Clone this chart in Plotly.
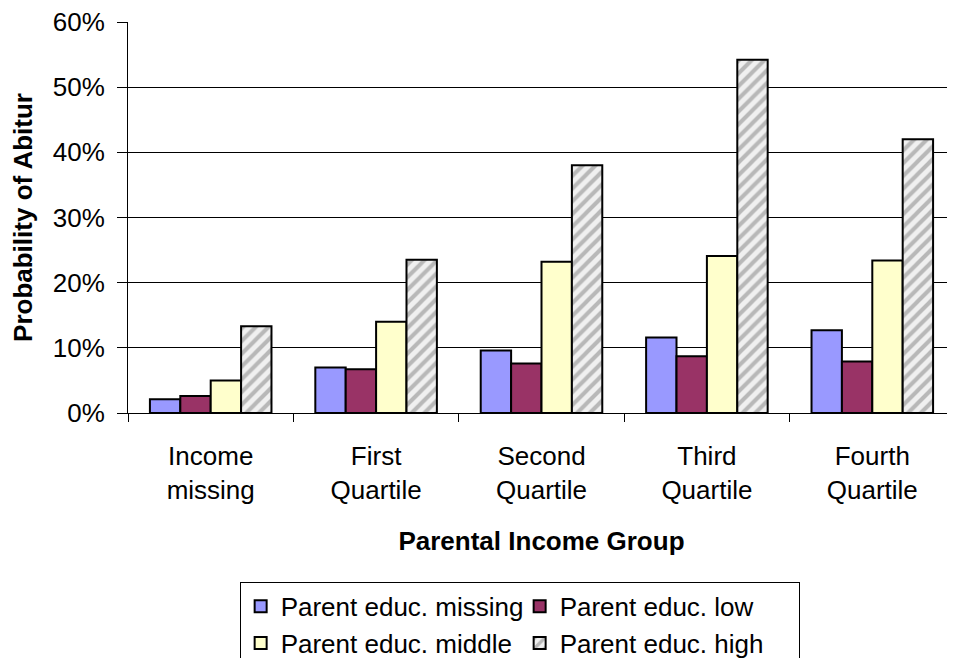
import plotly.graph_objects as go

categories = ["Income<br>missing", "First<br>Quartile", "Second<br>Quartile",
              "Third<br>Quartile", "Fourth<br>Quartile"]

educ_missing = [0.021, 0.070, 0.096, 0.116, 0.127]
educ_low = [0.026, 0.067, 0.076, 0.087, 0.079]
educ_middle = [0.050, 0.140, 0.232, 0.241, 0.234]
educ_high = [0.133, 0.235, 0.380, 0.542, 0.420]

font = "Arial, Liberation Sans, sans-serif"
outline = dict(color="black", width=2)

fig = go.Figure()
fig.add_trace(go.Bar(x=categories, y=educ_missing, name="Parent educ. missing",
                     marker=dict(color="#9999FF", line=outline)))
fig.add_trace(go.Bar(x=categories, y=educ_low, name="Parent educ. low",
                     marker=dict(color="#993366", line=outline)))
fig.add_trace(go.Bar(x=categories, y=educ_middle, name="Parent educ. middle",
                     marker=dict(color="#FFFFCC", line=outline)))
fig.add_trace(go.Bar(x=categories, y=educ_high, name="Parent educ. high",
                     marker=dict(color="#F0F0F0", line=outline,
                                 pattern=dict(shape="/", fgcolor="#7F7F7F",
                                              bgcolor="#F0F0F0", size=9,
                                              solidity=0.45))))

# page body has an 8px margin, so the figure is sized/offset to fill the window
fig.update_layout(
    width=947, height=650,
    margin=dict(l=120, r=0, t=14, b=245, autoexpand=False),
    paper_bgcolor="white", plot_bgcolor="white",
    font=dict(family=font, size=26, color="black"),
    barmode="group", bargap=0.265, bargroupgap=0,
    legend=dict(orientation="h", x=0.135, y=-0.432, xanchor="left", yanchor="top",
                entrywidth=234, entrywidthmode="pixels",
                bordercolor="black", borderwidth=1,
                font=dict(size=26), itemwidth=30),
)
fig.update_xaxes(
    automargin=False,
    tickson="boundaries", ticks="outside", ticklen=8, tickcolor="black",
    ticklabelstandoff=20, ticklabeloverflow="allow",
    showline=True, linecolor="black", linewidth=1,
    title=dict(text="<b>Parental Income Group</b>", font=dict(size=26), standoff=27),
)
fig.update_yaxes(
    automargin=False,
    range=[0, 0.6], dtick=0.1, tickformat=".0%",
    ticks="outside", ticklen=10, tickcolor="black", ticklabelstandoff=7,
    ticklabeloverflow="allow",
    showline=True, linecolor="black", linewidth=1,
    showgrid=True, gridcolor="black", gridwidth=1,
    title=dict(text="<b>Probability of Abitur</b>", font=dict(size=26), standoff=12),
)

fig.write_html("out.html")
